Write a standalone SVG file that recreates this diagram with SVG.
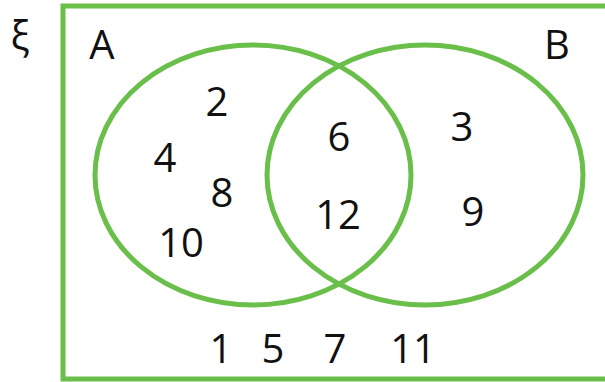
<svg xmlns="http://www.w3.org/2000/svg" width="605" height="382" viewBox="0 0 605 382">
<style>
.s{fill:none;stroke:#6abf4b;stroke-width:5}
text{font-family:"Open Sans","Liberation Sans",sans-serif;font-size:40px;fill:#111;text-anchor:middle}
</style>
<rect width="605" height="382" fill="#fff"/>
<g id="universe"><rect class="s" x="63" y="6" width="560" height="373"/><text x="20" y="50">ξ</text></g>
<g id="setA"><ellipse class="s" cx="253" cy="175" rx="158" ry="130"/><text x="102" y="59">A</text></g>
<g id="setB"><ellipse class="s" cx="425" cy="175" rx="158" ry="130"/><text x="557" y="59">B</text></g>
<g id="numbers">
<text x="217" y="116">2</text>
<text x="165" y="172">4</text>
<text x="222" y="207">8</text>
<text x="181" y="257">10</text>
<text x="339" y="151">6</text>
<text x="338" y="229">12</text>
<text x="462" y="141">3</text>
<text x="473" y="226">9</text>
<text x="221" y="363">1</text>
<text x="273" y="363">5</text>
<text x="335" y="363">7</text>
<text x="413" y="363">11</text>
</g>
</svg>
